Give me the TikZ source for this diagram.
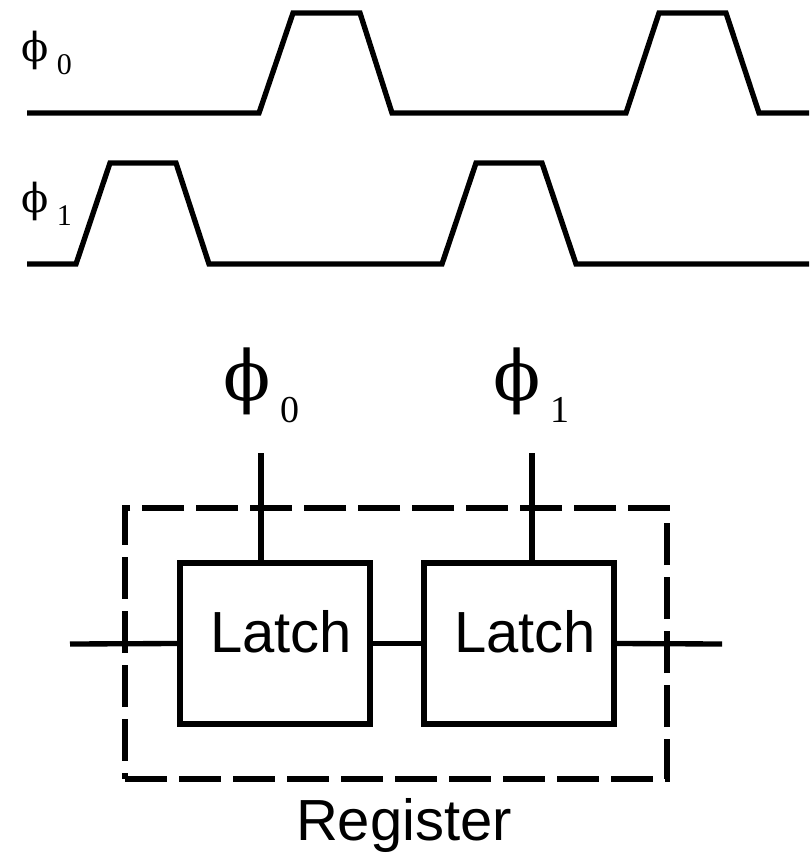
\documentclass[tikz,border=0pt]{standalone}
\usepackage{fontspec}
\usepackage{tikz}
\usetikzlibrary{positioning,calc}
\newfontfamily\helv{Liberation Sans}
\newfontfamily\tms{Liberation Serif}
\newfontfamily\grk{DejaVu Serif}
\newlength\pxu
\setlength\pxu{0.75pt}
% clock label: phi with a lowered index
\newcommand{\clk}[5]{{\grk\fontsize{#2}{#2}\selectfont ϕ}\hspace{#4\pxu}\raisebox{-#5\pxu}{\tms\fontsize{#3}{#3}\selectfont #1}}

\begin{document}
\begin{tikzpicture}[x=\pxu, y=-\pxu, line width=4pt,
                    wave/.style={line join=miter},
                    latchbox/.style={draw, rectangle, minimum width=190\pxu,
                                     minimum height=161\pxu, inner sep=0pt,
                                     font=\helv\fontsize{43.5}{43.5}\selectfont},
                    regbox/.style={draw, rectangle, dash pattern=on 31.5pt off 9pt,
                                   minimum width=542\pxu, minimum height=271\pxu,
                                   inner sep=0pt},
                    wire/.style={line cap=butt}]
  \useasboundingbox (0,0) rectangle (809,855);

  % timing diagram
  \node[anchor=base west, inner sep=0pt] (lbl0) at (19,62) {\clk{0}{30}{22.5}{8}{13}};
  \node[anchor=base west, inner sep=0pt] (lbl1) at (19,213) {\clk{1}{30}{22.5}{8}{13}};
  \draw[wave] (27,113) -- (259,113) -- (293,13) -- (360,13) -- (392,113)
              -- (626,113) -- (659,13) -- (726,13) -- (759,113) -- (809,113);
  \draw[wave] (27,264) -- (76,264) -- (110,163) -- (176,163) -- (209,264)
              -- (442,264) -- (476,163) -- (542,163) -- (576,264) -- (809,264);

  % register built from two latches
  \node[regbox] (reg) at (396,643.5) {};
  \node[latchbox] (latchA) at (275,643.5) {\smash{\raisebox{-8.5\pxu}{\hspace{12\pxu}Latch}}};
  \node[latchbox] (latchB) at (519,643.5) {\smash{\raisebox{-8.5\pxu}{\hspace{12\pxu}Latch}}};
  \node[anchor=base, inner sep=0pt, font=\helv\fontsize{43.5}{43.5}\selectfont]
    (regname) at (404,840) {Register};

  \node[anchor=base west, inner sep=0pt] (clkA) at (221,400) {\clk{0}{52}{28.5}{10}{22}};
  \node[anchor=base west, inner sep=0pt] (clkB) at (491,400) {\clk{1}{52}{28.5}{10}{22}};

  \coordinate (din) at (70,644);
  \coordinate (dout) at (722,644);
  \coordinate (tapA) at (261,453);
  \coordinate (tapB) at (532,453);

  \draw[wire] (din) -- (latchA.west);
  \draw[wire] (latchA.east) -- (latchB.west);
  \draw[wire] (latchB.east) -- (dout);
  \draw[wire] (tapA) -- (tapA |- latchA.north);
  \draw[wire] (tapB) -- (tapB |- latchB.north);
\end{tikzpicture}
\end{document}
